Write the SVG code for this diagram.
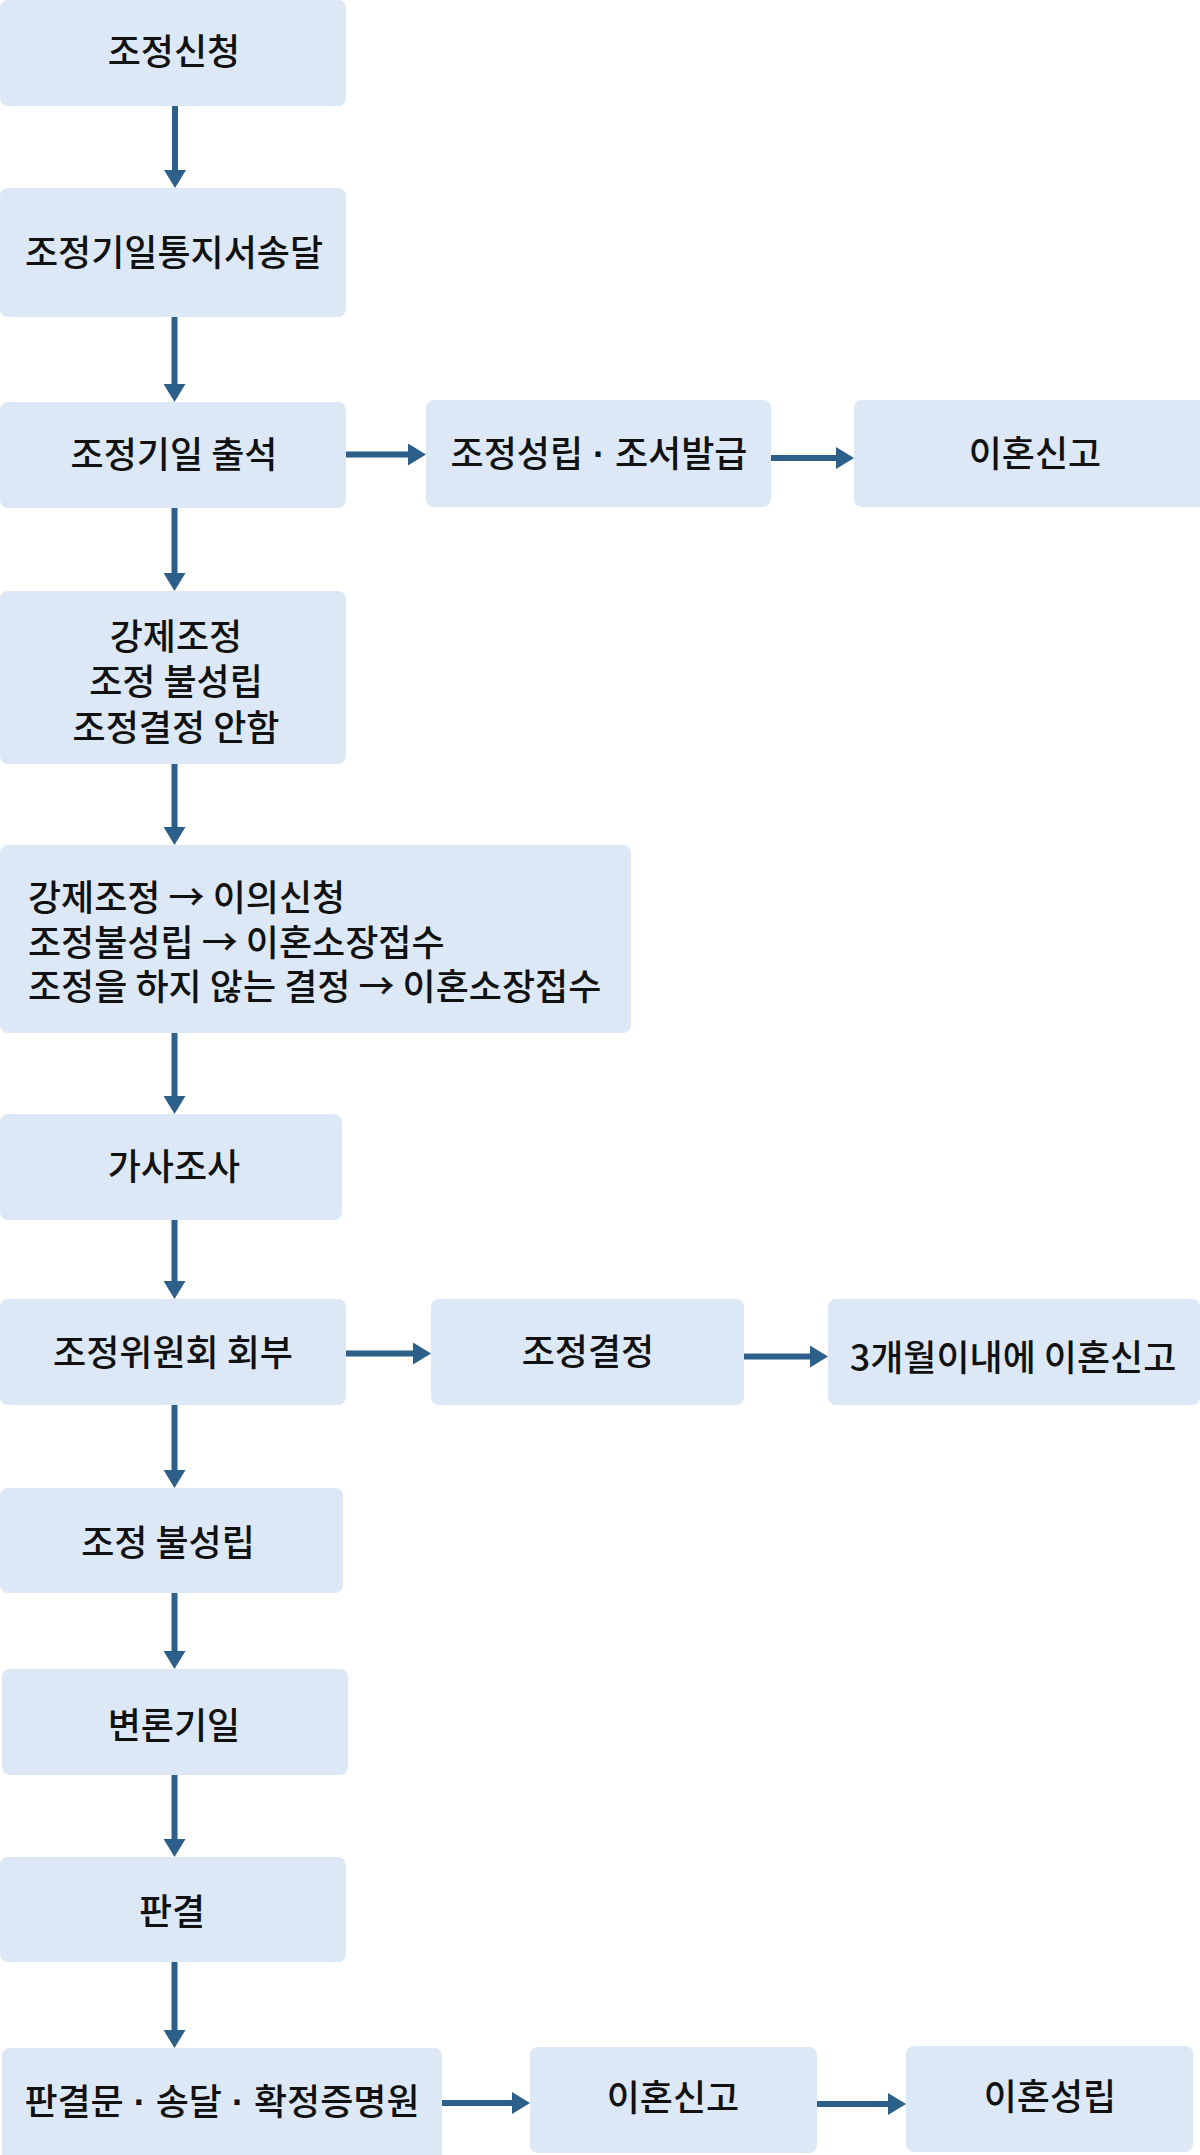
<svg xmlns="http://www.w3.org/2000/svg" width="1200" height="2155" viewBox="0 0 1200 2155">
<style>
.box{fill:#dce8f5;}
.t{font-family:"Noto Sans CJK KR","Noto Sans",sans-serif;font-size:36px;font-weight:500;fill:#111111;text-anchor:middle;}
.tl{font-family:"Noto Sans CJK KR","Noto Sans",sans-serif;font-size:36px;font-weight:500;fill:#111111;text-anchor:start;}
.d{font-family:"Liberation Sans",sans-serif;font-weight:700;}
.c{stroke:#2d5f8b;stroke-width:6;fill:none;marker-end:url(#ah);}
</style>
<defs>
<marker id="ah" markerUnits="userSpaceOnUse" markerWidth="18" markerHeight="22" refX="2" refY="11" orient="auto" viewBox="0 0 18 22">
<path d="M0,0 L18,11 L0,22 Z" fill="#2d5f8b"/>
</marker>
</defs>
<rect width="1200" height="2155" fill="#ffffff"/>
<g id="n1"><rect class="box" x="0" y="0" width="346" height="106" rx="8"/><text class="t" x="174" y="65">조정신청</text></g>
<g id="n2"><rect class="box" x="0" y="188" width="346" height="129" rx="8"/><text class="t" x="174" y="266">조정기일통지서송달</text></g>
<g id="n3"><rect class="box" x="0" y="402" width="346" height="106" rx="8"/><text class="t" x="174" y="468">조정기일 출석</text></g>
<g id="n3b"><rect class="box" x="426" y="400" width="345" height="107" rx="8"/><text class="t" x="599" y="467">조정성립<tspan class="d"> · </tspan>조서발급</text></g>
<g id="n3c"><rect class="box" x="854" y="400" width="354" height="107" rx="8"/><text class="t" x="1035" y="467">이혼신고</text></g>
<g id="n4"><rect class="box" x="0" y="591" width="346" height="173" rx="8"/>
<text class="t" x="176" y="650">강제조정<tspan x="176" dy="45">조정 불성립</tspan><tspan x="176" dy="46">조정결정 안함</tspan></text></g>
<g id="n5"><rect class="box" x="0" y="845" width="631" height="188" rx="8"/>
<text class="tl" x="28" y="911">강제조정 → 이의신청<tspan x="28" dy="45">조정불성립 → 이혼소장접수</tspan><tspan x="28" dy="44">조정을 하지 않는 결정 → 이혼소장접수</tspan></text></g>
<g id="n6"><rect class="box" x="0" y="1114" width="342" height="106" rx="8"/><text class="t" x="174" y="1180">가사조사</text></g>
<g id="n7"><rect class="box" x="0" y="1299" width="346" height="106" rx="8"/><text class="t" x="173" y="1366">조정위원회 회부</text></g>
<g id="n7b"><rect class="box" x="431" y="1299" width="313" height="106" rx="8"/><text class="t" x="588" y="1365">조정결정</text></g>
<g id="n7c"><rect class="box" x="828" y="1299" width="372" height="106" rx="8"/><text class="t" x="1013" y="1371">3개월이내에 이혼신고</text></g>
<g id="n8"><rect class="box" x="0" y="1488" width="343" height="105" rx="8"/><text class="t" x="168" y="1556">조정 불성립</text></g>
<g id="n9"><rect class="box" x="2" y="1669" width="346" height="106" rx="8"/><text class="t" x="174" y="1739">변론기일</text></g>
<g id="n10"><rect class="box" x="0" y="1857" width="346" height="105" rx="8"/><text class="t" x="172" y="1925">판결</text></g>
<g id="n11"><rect class="box" x="2" y="2048" width="440" height="115" rx="8"/><text class="t" x="222" y="2115">판결문<tspan class="d"> · </tspan>송달<tspan class="d"> · </tspan>확정증명원</text></g>
<g id="n11b"><rect class="box" x="530" y="2047" width="287" height="106" rx="8"/><text class="t" x="673" y="2111">이혼신고</text></g>
<g id="n11c"><rect class="box" x="906" y="2046" width="287" height="106" rx="8"/><text class="t" x="1050" y="2110">이혼성립</text></g>
<g id="connectors">
<line class="c" x1="175" y1="106" x2="175" y2="172"/>
<line class="c" x1="174.5" y1="317" x2="174.5" y2="386"/>
<line class="c" x1="174.5" y1="508" x2="174.5" y2="575"/>
<line class="c" x1="174.5" y1="764" x2="174.5" y2="829"/>
<line class="c" x1="174.5" y1="1033" x2="174.5" y2="1098"/>
<line class="c" x1="174.5" y1="1220" x2="174.5" y2="1283"/>
<line class="c" x1="174.5" y1="1405" x2="174.5" y2="1472"/>
<line class="c" x1="174.5" y1="1593" x2="174.5" y2="1653"/>
<line class="c" x1="174.5" y1="1775" x2="174.5" y2="1841"/>
<line class="c" x1="174.5" y1="1962" x2="174.5" y2="2032"/>
<line class="c" x1="346" y1="454.5" x2="410" y2="454.5"/>
<line class="c" x1="771" y1="458" x2="838" y2="458"/>
<line class="c" x1="346" y1="1353.5" x2="415" y2="1353.5"/>
<line class="c" x1="744" y1="1356.5" x2="812" y2="1356.5"/>
<line class="c" x1="442" y1="2103" x2="514" y2="2103"/>
<line class="c" x1="817" y1="2104" x2="890" y2="2104"/>
</g>
</svg>
